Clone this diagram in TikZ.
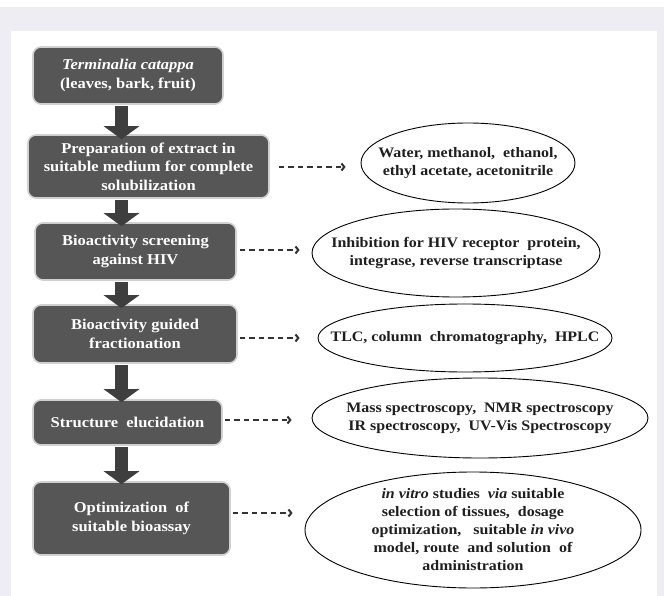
\documentclass[tikz,border=0pt]{standalone}
\usepackage{fontspec}
\setmainfont{Liberation Serif}[FakeStretch=1.1]
\usetikzlibrary{arrows.meta,shapes.geometric,calc}
\definecolor{bggray}{HTML}{EFEDF4}
\definecolor{boxfill}{HTML}{565656}
\definecolor{boxedge}{HTML}{D0D0D0}
\definecolor{arrgray}{HTML}{3E3E3E}
\definecolor{dashgray}{HTML}{333333}
\definecolor{txtdark}{HTML}{1F1F1F}
\begin{document}
\begin{tikzpicture}[x=1pt,y=-1pt,
  stepbox/.style={draw=boxedge, line width=1.6pt, fill=boxfill, rounded corners=8pt,
    text=white, font=\fontsize{15}{18.5}\selectfont\bfseries, align=center, inner sep=0pt},
  ovalshape/.style={draw=black, line width=0.9pt, fill=white, ellipse, inner sep=0pt},
  ovaltext/.style={text=txtdark, font=\fontsize{14.5}{18}\selectfont\bfseries, align=center, inner sep=0pt},
  bigarrow/.style={draw=arrgray, line width=13pt, -{Triangle[width=35pt,length=13pt]}},
  dasharrow/.style={draw=dashgray, line width=1.6pt, dash pattern=on 5.5pt off 4pt,
    -{Straight Barb[length=2.8pt,width=7pt,line width=2pt]}}]
% background
\fill[white] (0,0) rectangle (664,596);
\fill[bggray] (0,7) rectangle (664,596);
\fill[white] (11,31) rectangle (657,596);
\useasboundingbox (0,0) rectangle (664,596);

% boxes
\node[stepbox, minimum width=190pt, minimum height=57pt] (b1) at (128,75.5)
  {\textit{Terminalia catappa}\\(leaves, bark, fruit)};
\node[stepbox, minimum width=241pt, minimum height=63pt] (b2) at (148.5,166.5)
  {Preparation of extract in\\suitable medium for complete\\solubilization};
\node[stepbox, minimum width=201pt, minimum height=57pt] (b3) at (135.5,251.5)
  {Bioactivity screening\\against HIV};
\node[stepbox, minimum width=204pt, minimum height=58pt] (b4) at (135,334)
  {Bioactivity guided\\fractionation};
\node[stepbox, minimum width=189pt, minimum height=45pt] (b5) at (127.5,422.5)
  {Structure\ \ elucidation};
\node[stepbox, minimum width=197pt, minimum height=73pt] (b6) at (131.5,518.5)
  {Optimization\ \ of\\suitable bioassay};

% ellipses
\node[ovalshape, minimum width=214pt, minimum height=80pt] (e1) at (468,163) {};
\node[ovaltext] (t1) at (e1.center) {Water, methanol,\ \ ethanol,\\ethyl acetate, acetonitrile};
\node[ovalshape, minimum width=288pt, minimum height=88pt] (e2) at (456,253) {};
\node[ovaltext] (t2) at (e2.center) {Inhibition for HIV receptor\ \ protein,\\integrase, reverse transcriptase};
\node[ovalshape, minimum width=294pt, minimum height=68pt] (e3) at (465,338) {};
\node[ovaltext] (t3) at (e3.center) {TLC, column\ \ chromatography,\ \ HPLC};
\node[ovalshape, minimum width=336pt, minimum height=80pt] (e4) at (480,418) {};
\node[ovaltext] (t4) at (e4.center) {Mass spectroscopy,\ \ NMR spectroscopy\\IR spectroscopy,\ \ UV-Vis Spectroscopy};
\node[ovalshape, minimum width=336pt, minimum height=116pt] (e5) at (473,530) {};
\node[ovaltext] (t5) at (e5.center) {\textit{in vitro} studies\ \ \textit{via} suitable\\selection of tissues,\ \ dosage\\optimization,\ \ \ suitable \textit{in vivo}\\model, route\ \ and solution\ \ of\\administration};

% thick arrows
\coordinate (col) at (121.5,0);
\draw[bigarrow] ($(b1.south -| col)+(0,1.5)$) -- ($(b2.north -| col)+(0,5)$);
\draw[bigarrow] ($(b2.south -| col)+(0,1.5)$) -- ($(b3.north -| col)+(0,4)$);
\draw[bigarrow] ($(b3.south -| col)+(0,1.5)$) -- ($(b4.north -| col)+(0,4)$);
\draw[bigarrow] ($(b4.south -| col)+(0,1.5)$) -- ($(b5.north -| col)+(0,3)$);
\draw[bigarrow] ($(b5.south -| col)+(0,1.5)$) -- ($(b6.north -| col)+(0,3)$);

% dashed arrows
\draw[dasharrow] ($(b2.east)+(9,0.5)$) -- ($(b2.east -| e1.west)+(-15,0.5)$);
\draw[dasharrow] ($(b3.east)+(3,-1.5)$) -- ($(b3.east -| e2.west)+(-12,-1.5)$);
\draw[dasharrow] ($(b4.east)+(2,4)$) -- ($(b4.east -| e3.west)+(-18,4)$);
\draw[dasharrow] ($(b5.east)+(2,-2.5)$) -- ($(b5.east -| e4.west)+(-20,-2.5)$);
\draw[dasharrow] ($(b6.east)+(2,-5.5)$) -- ($(b6.east -| e5.west)+(-12,-5.5)$);
\end{tikzpicture}
\end{document}
